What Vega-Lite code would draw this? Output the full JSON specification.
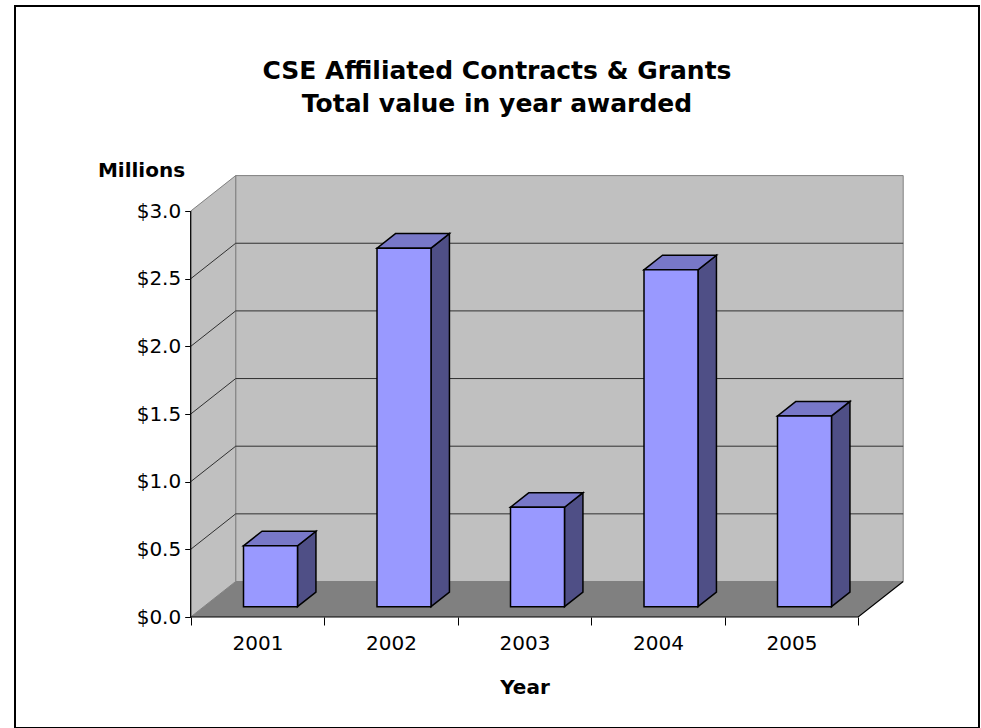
{
  "$schema": "https://vega.github.io/schema/vega-lite/v6.json",
  "width": 964,
  "height": 722,
  "autosize": {"type": "none"},
  "padding": {"left": 15, "top": 6, "right": 2, "bottom": 0},
  "background": "white",
  "config": {"view": {"stroke": "#000000", "strokeWidth": 2}, "font": "DejaVu Sans"},
  "title": {
    "text": ["CSE Affiliated Contracts & Grants", "Total value in year awarded"],
    "anchor": "middle",
    "frame": "group",
    "fontSize": 25,
    "fontWeight": "bold",
    "font": "DejaVu Sans",
    "color": "#000000",
    "lineHeight": 33,
    "baseline": "top",
    "offset": -49,
    "dy": 62
  },
  "datasets": {
    "bars": [
      {"year": 2001, "value": 0.45},
      {"year": 2002, "value": 2.65},
      {"year": 2003, "value": 0.735},
      {"year": 2004, "value": 2.49},
      {"year": 2005, "value": 1.41}
    ],
    "ticks": [{"t": 0.5}, {"t": 1}, {"t": 1.5}, {"t": 2}, {"t": 2.5}],
    "corners": [{"k": 0}, {"k": 1}],
    "path": [{"k": 0}, {"k": 1}, {"k": 2}, {"k": 3}]
  },
  "layer": [
    {
      "data": {"name": "corners"},
      "transform": [
        {"filter": "datum.k == 0"},
        {"calculate": "0.3371", "as": "X"},
        {"calculate": "5.3371", "as": "X2"},
        {"calculate": "0.2624", "as": "Y"},
        {"calculate": "3.2624", "as": "Y2"}
      ],
      "mark": {"type": "rect", "fill": "#C0C0C0", "stroke": "#808080", "strokeWidth": 1},
      "encoding": {
        "x": {
          "field": "X", "type": "quantitative",
          "scale": {"domain": [-1.3161, 5.9049], "nice": false, "zero": false},
          "axis": {
            "values": [0, 0.5, 1, 1.5, 2, 2.5, 3, 3.5, 4, 4.5, 5],
            "offset": -111,
            "domain": false,
            "grid": false,
            "tickSize": 8,
            "tickColor": "#000000",
            "tickWidth": 1,
            "tickOpacity": {"condition": {"test": "datum.value % 1 != 0", "value": 0}, "value": 1},
            "labelExpr": "datum.value % 1 != 0 ? '' + (2000.5 + datum.value) : ''",
            "labelFont": "DejaVu Sans",
            "labelFontSize": 20,
            "labelColor": "#000000",
            "labelPadding": 8,
            "labelFlush": false,
            "labelOverlap": false,
            "title": "Year",
            "titleFont": "DejaVu Sans",
            "titleFontSize": 20,
            "titleFontWeight": "bold",
            "titleColor": "#000000",
            "titleX": 509.5,
            "titleY": 70,
            "titleAlign": "center",
            "titleBaseline": "middle"
          }
        },
        "x2": {"field": "X2"},
        "y": {
          "field": "Y", "type": "quantitative",
          "scale": {"domain": [-0.8204, 4.5159], "nice": false, "zero": false},
          "axis": {
            "values": [0, 0.5, 1, 1.5, 2, 2.5, 3],
            "format": "$.1f",
            "offset": -175.7,
            "domain": false,
            "grid": false,
            "tickSize": 6,
            "tickColor": "#000000",
            "labelFont": "DejaVu Sans",
            "labelFontSize": 20,
            "labelColor": "#000000",
            "labelPadding": 4,
            "labelFlush": false,
            "labelOverlap": false,
            "title": "Millions",
            "titleFont": "DejaVu Sans",
            "titleFontSize": 20,
            "titleFontWeight": "bold",
            "titleColor": "#000000",
            "titleAngle": 0,
            "titleX": -49.7,
            "titleY": 164,
            "titleAlign": "center",
            "titleBaseline": "middle"
          }
        },
        "y2": {"field": "Y2"}
      }
    },
    {
      "data": {"name": "corners"},
      "transform": [
        {"calculate": "datum.k * 0.3371", "as": "X"},
        {"calculate": "datum.k * 0.2624", "as": "Y"},
        {"calculate": "3 + datum.k * 0.2624", "as": "Y2"}
      ],
      "mark": {"type": "area", "orient": "vertical", "fill": "#C0C0C0", "stroke": "#808080", "strokeWidth": 1},
      "encoding": {
        "x": {"field": "X", "type": "quantitative", "scale": {"domain": [-1.3161, 5.9049], "nice": false, "zero": false}},
        "y": {"field": "Y", "type": "quantitative", "scale": {"domain": [-0.8204, 4.5159], "nice": false, "zero": false}},
        "y2": {"field": "Y2"}
      }
    },
    {
      "data": {"name": "corners"},
      "transform": [
        {"calculate": "datum.k * 0.2624", "as": "Y"},
        {"calculate": "datum.k * 0.3371", "as": "X"},
        {"calculate": "5 + datum.k * 0.3371", "as": "X2"}
      ],
      "mark": {"type": "area", "orient": "horizontal", "fill": "#808080", "strokeWidth": 0},
      "encoding": {
        "y": {"field": "Y", "type": "quantitative", "scale": {"domain": [-0.8204, 4.5159], "nice": false, "zero": false}},
        "x": {"field": "X", "type": "quantitative", "scale": {"domain": [-1.3161, 5.9049], "nice": false, "zero": false}},
        "x2": {"field": "X2"}
      }
    },
    {
      "data": {"name": "ticks"},
      "transform": [
        {"calculate": "0", "as": "X"},
        {"calculate": "0.3371", "as": "X2"},
        {"calculate": "datum.t", "as": "Y"},
        {"calculate": "datum.t + 0.2624", "as": "Y2"}
      ],
      "mark": {"type": "rule", "color": "#303030", "strokeWidth": 1},
      "encoding": {
        "x": {"field": "X", "type": "quantitative", "scale": {"domain": [-1.3161, 5.9049], "nice": false, "zero": false}},
        "x2": {"field": "X2"},
        "y": {"field": "Y", "type": "quantitative", "scale": {"domain": [-0.8204, 4.5159], "nice": false, "zero": false}},
        "y2": {"field": "Y2"}
      }
    },
    {
      "data": {"name": "ticks"},
      "transform": [
        {"calculate": "0.3371", "as": "X"},
        {"calculate": "5.3371", "as": "X2"},
        {"calculate": "datum.t + 0.2624", "as": "Y"}
      ],
      "mark": {"type": "rule", "color": "#303030", "strokeWidth": 1},
      "encoding": {
        "x": {"field": "X", "type": "quantitative", "scale": {"domain": [-1.3161, 5.9049], "nice": false, "zero": false}},
        "x2": {"field": "X2"},
        "y": {"field": "Y", "type": "quantitative", "scale": {"domain": [-0.8204, 4.5159], "nice": false, "zero": false}}
      }
    },
    {
      "data": {"name": "path"},
      "transform": [
        {"calculate": "[0, 0, 5, 5.3371][datum.k]", "as": "X"},
        {"calculate": "[3, 0, 0, 0.2624][datum.k]", "as": "Y"}
      ],
      "mark": {"type": "line", "color": "#000000", "strokeWidth": 1.2},
      "encoding": {
        "x": {"field": "X", "type": "quantitative", "scale": {"domain": [-1.3161, 5.9049], "nice": false, "zero": false}},
        "y": {"field": "Y", "type": "quantitative", "scale": {"domain": [-0.8204, 4.5159], "nice": false, "zero": false}},
        "order": {"field": "k", "type": "quantitative"}
      }
    },
    {
      "data": {"name": "bars"},
      "transform": [
        {"calculate": "[0, 1]", "as": "kk"},
        {"flatten": ["kk"], "as": ["k"]},
        {"calculate": "datum.year - 2000.5", "as": "c"},
        {"calculate": "datum.c + 0.2022 + (datum.k == 1 ? 0.23597 : 0.09776)", "as": "X"},
        {"calculate": "datum.k == 1 ? 0.18368 : 0.0761", "as": "Y"},
        {"calculate": "datum.value + datum.Y", "as": "Y2"}
      ],
      "mark": {"type": "area", "orient": "vertical", "fill": "#4F4F86", "stroke": "#000000", "strokeWidth": 1.5, "strokeJoin": "miter"},
      "encoding": {
        "x": {"field": "X", "type": "quantitative", "scale": {"domain": [-1.3161, 5.9049], "nice": false, "zero": false}},
        "y": {"field": "Y", "type": "quantitative", "scale": {"domain": [-0.8204, 4.5159], "nice": false, "zero": false}},
        "y2": {"field": "Y2"},
        "detail": {"field": "year", "type": "nominal"}
      }
    },
    {
      "data": {"name": "bars"},
      "transform": [
        {"calculate": "[0, 1]", "as": "kk"},
        {"flatten": ["kk"], "as": ["k"]},
        {"calculate": "datum.year - 2000.5", "as": "c"},
        {"calculate": "datum.value + (datum.k == 1 ? 0.18368 : 0.0761)", "as": "Y"},
        {"calculate": "datum.c - 0.2022 + (datum.k == 1 ? 0.23597 : 0.09776)", "as": "X"},
        {"calculate": "datum.c + 0.2022 + (datum.k == 1 ? 0.23597 : 0.09776)", "as": "X2"}
      ],
      "mark": {"type": "area", "orient": "horizontal", "fill": "#7878C8", "stroke": "#000000", "strokeWidth": 1.5, "strokeJoin": "miter"},
      "encoding": {
        "y": {"field": "Y", "type": "quantitative", "scale": {"domain": [-0.8204, 4.5159], "nice": false, "zero": false}},
        "x": {"field": "X", "type": "quantitative", "scale": {"domain": [-1.3161, 5.9049], "nice": false, "zero": false}},
        "x2": {"field": "X2"},
        "detail": {"field": "year", "type": "nominal"}
      }
    },
    {
      "data": {"name": "bars"},
      "transform": [
        {"calculate": "datum.year - 2000.5", "as": "c"},
        {"calculate": "datum.c - 0.2022 + 0.09776", "as": "X"},
        {"calculate": "datum.c + 0.2022 + 0.09776", "as": "X2"},
        {"calculate": "0.0761", "as": "Y"},
        {"calculate": "datum.value + 0.0761", "as": "Y2"}
      ],
      "mark": {"type": "rect", "fill": "#9999FF", "stroke": "#000000", "strokeWidth": 1.5},
      "encoding": {
        "x": {"field": "X", "type": "quantitative", "scale": {"domain": [-1.3161, 5.9049], "nice": false, "zero": false}},
        "x2": {"field": "X2"},
        "y": {"field": "Y", "type": "quantitative", "scale": {"domain": [-0.8204, 4.5159], "nice": false, "zero": false}},
        "y2": {"field": "Y2"}
      }
    }
  ]
}
